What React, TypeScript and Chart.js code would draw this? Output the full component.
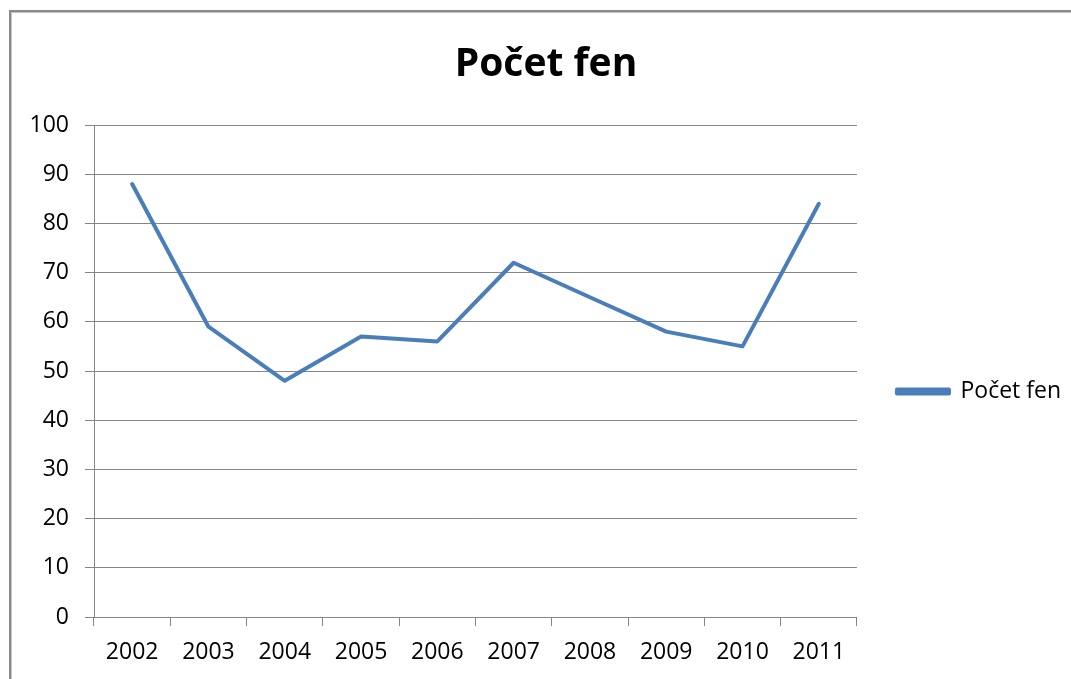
import React, { useEffect, useRef } from "react";
import { Chart, registerables } from "chart.js";

Chart.register(...registerables);

const years = ["2002", "2003", "2004", "2005", "2006", "2007", "2008", "2009", "2010", "2011"];
const counts = [88, 59, 48, 57, 56, 72, 65, 58, 55, 84];
const seriesName = "Počet fen";
const chartTitle = "Počet fen";

const FONT = "'Open Sans', 'Liberation Sans', sans-serif";
const GRID = "#868686";

export default function App() {
  const ref = useRef<HTMLCanvasElement | null>(null);

  useEffect(() => {
    if (!ref.current) return;
    const chart = new Chart(ref.current, {
      type: "line",
      data: {
        labels: years,
        datasets: [
          {
            label: seriesName,
            data: counts,
            borderColor: "#4A7EBB",
            backgroundColor: "#4A7EBB",
            borderWidth: 4,
            pointRadius: 0,
            tension: 0,
            borderCapStyle: "round",
            borderJoinStyle: "round",
          },
        ],
      },
      options: {
        responsive: false,
        animation: false,
        layout: { padding: { top: 0, left: 21, right: 0, bottom: 0 } },
        plugins: {
          title: {
            display: true,
            text: chartTitle,
            color: "#000",
            font: { family: FONT, size: 39, weight: "bold" },
            padding: { top: 41, bottom: 37.2 },
          },
          legend: {
            display: true,
            position: "right",
            title: {
              display: true,
              text: " ",
              padding: 40,
              font: { family: FONT, size: 20 },
            },
            labels: {
              color: "#000",
              font: { family: FONT, size: 23 },
              boxWidth: 52,
              boxHeight: 4,
              padding: 40,
            },
          },
          tooltip: { enabled: false },
        },
        scales: {
          x: {
            offset: true,
            grid: {
              display: true,
              offset: true,
              drawOnChartArea: false,
              drawTicks: true,
              tickLength: 9,
              color: GRID,
            },
            border: { display: true, color: GRID },
            ticks: {
              color: "#000",
              font: { family: FONT, size: 23 },
              padding: 13,
              maxRotation: 0,
            },
            afterFit: (s: any) => {
              s.height = 62;
            },
          },
          y: {
            min: 0,
            max: 100,
            ticks: {
              stepSize: 10,
              color: "#000",
              font: { family: FONT, size: 23 },
              padding: 16,
            },
            grid: {
              color: GRID,
              drawTicks: true,
              tickLength: 9,
            },
            border: { display: true, color: GRID },
            afterFit: (s: any) => {
              s.width = 73;
            },
          },
        },
      },
    });
    return () => chart.destroy();
  }, []);

  return (
    <div style={{ position: "absolute", left: 0, top: 0, width: 1071, height: 679, background: "#fff", overflow: "hidden" }}>
      <div
        style={{
          position: "absolute",
          left: 9,
          top: 10,
          width: 1200,
          height: 800,
          borderLeft: "2px solid #8a8a8a",
          borderTop: "2px solid #8a8a8a",
        }}
      >
        <div
          style={{
            position: "absolute",
            left: 0,
            top: 0,
            right: 0,
            bottom: 0,
            borderLeft: "1px solid #c4c4c4",
            borderTop: "1px solid #c4c4c4",
          }}
        />
      </div>
      <canvas ref={ref} width={1071} height={679} style={{ position: "absolute", left: 0, top: 0 }} />
    </div>
  );
}
